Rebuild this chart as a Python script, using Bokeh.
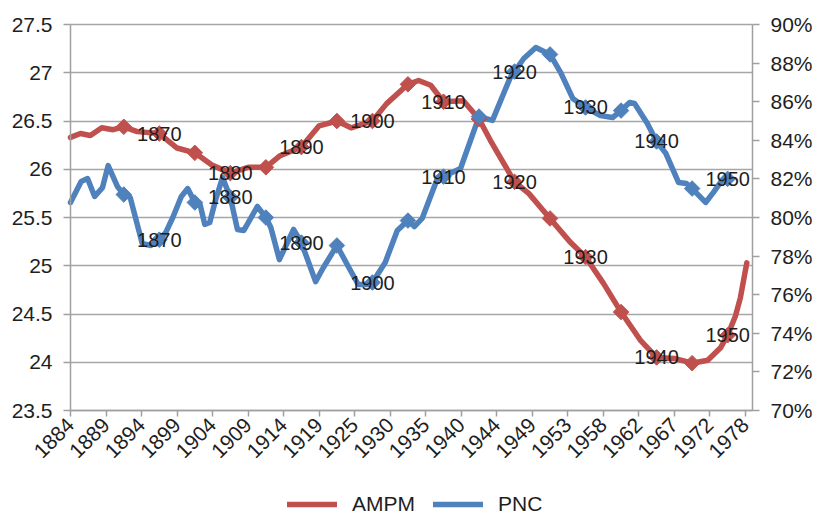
import math

from bokeh.core.properties import value
from bokeh.embed import file_html
from bokeh.models import (CustomJSTickFormatter, FixedTicker, Legend, LegendItem,
                          LinearAxis, PrintfTickFormatter, Range1d)
from bokeh.plotting import figure
from bokeh.resources import INLINE

# Period axis: tick positions (slot index) and their year labels
tick_pos = [0, 5, 10, 15, 20, 25, 30, 35, 40, 45, 50, 55, 60, 65, 70, 75, 80, 85, 90, 95]
tick_labels = ["1884", "1889", "1894", "1899", "1904", "1909", "1914", "1919", "1925", "1930",
               "1935", "1940", "1944", "1949", "1953", "1958", "1962", "1967", "1972", "1978"]

# AMPM (left axis, years)
ampm_t = [0, 1.4, 2.8, 4.4, 6.0, 7.5, 9.4, 12.5, 15.0, 17.5,
          20.0, 22.5, 25.0, 27.5, 29.5, 32.5, 35.0, 37.5, 39.5, 42.5,
          44.5, 47.5, 49.0, 50.7, 52.5, 55.3, 57.5, 59.1, 60.2, 62.5,
          64.5, 67.5, 70.4, 72.5, 75.0, 77.5, 80.2, 82.5, 85.0, 87.5,
          89.7, 91.5, 92.5, 93.6, 94.3, 95.2]
ampm = [26.33, 26.37, 26.35, 26.43, 26.41, 26.44, 26.39, 26.37, 26.22, 26.17,
        26.04, 25.96, 26.02, 26.02, 26.14, 26.23, 26.45, 26.50, 26.43, 26.50,
        26.68, 26.88, 26.92, 26.87, 26.70, 26.71, 26.52, 26.30, 26.16, 25.87,
        25.75, 25.49, 25.24, 25.09, 24.82, 24.52, 24.23, 24.05, 24.04, 23.99,
        24.02, 24.15, 24.28, 24.48, 24.67, 25.03]

# PNC (right axis, percent)
pnc_t = [0, 1.5, 2.4, 3.4, 4.5, 5.3, 6.6, 7.5, 8.4, 10.1,
         11.3, 12.5, 13.4, 14.4, 15.6, 16.5, 17.5, 18.2, 18.9, 19.6,
         20.4, 21.4, 22.5, 23.5, 24.4, 26.3, 27.5, 28.2, 29.4, 31.4,
         32.5, 34.5, 35.6, 37.5, 39.1, 40.5, 41.8, 42.5, 44.3, 46.0,
         47.5, 48.4, 49.5, 51.7, 52.5, 54.9, 57.5, 59.4, 61.9, 62.5,
         63.8, 65.5, 67.5, 69.0, 70.7, 72.5, 74.6, 76.3, 77.5, 78.7,
         79.4, 81.2, 82.5, 83.8, 85.6, 86.7, 87.5, 89.4, 90.5, 91.6,
         92.5]
pnc = [80.78, 81.87, 82.02, 81.09, 81.55, 82.69, 81.61, 81.19, 81.04, 78.65,
       78.55, 78.85, 79.22, 80.00, 81.09, 81.50, 80.78, 80.73, 79.64, 79.74,
       80.88, 82.07, 81.04, 79.38, 79.33, 80.57, 80.00, 79.48, 77.82, 79.38,
       78.70, 76.68, 77.41, 78.55, 77.46, 76.53, 76.53, 76.63, 77.67, 79.33,
       79.84, 79.53, 79.95, 82.07, 82.12, 82.54, 85.23, 85.03, 87.25, 87.56,
       88.24, 88.81, 88.45, 87.51, 86.17, 85.70, 85.28, 85.18, 85.54, 85.96,
       85.91, 84.87, 83.94, 83.32, 81.81, 81.76, 81.50, 80.78, 81.30, 81.87,
       82.00]

# Birth cohorts marked on both lines (every 5 years), decades get a label
cohort_t = [7.5, 12.5, 17.5, 22.5, 27.5, 32.5, 37.5, 42.5, 47.5, 52.5,
            57.5, 62.5, 67.5, 72.5, 77.5, 82.5, 87.5, 92.5]
cohort_year = [1865, 1870, 1875, 1880, 1885, 1890, 1895, 1900, 1905, 1910,
               1915, 1920, 1925, 1930, 1935, 1940, 1945, 1950]

RED = "#C0504D"
BLUE = "#4F81BD"
GRID = "#A6A6A6"
AXIS = "#A0A0A0"
TEXT = "#1E1E1E"
FONT = "Liberation Sans"

# Page geometry (pixels): the frame fills the page, the axes sit inside it
W, H = 814, 516
AX_LEFT, AX_RIGHT, AX_TOP, AX_BOTTOM = 70, 752, 24, 410
T_LO, T_HI = 0, 96
AMPM_LO, AMPM_HI = 23.5, 27.5
PNC_LO, PNC_HI = 70, 90

def stretch(lo, hi, px_lo, px_hi, before, after):
    per_px = (hi - lo) / (px_hi - px_lo)
    return lo - before * per_px, hi + after * per_px

x_lo, x_hi = stretch(T_LO, T_HI, AX_LEFT, AX_RIGHT, AX_LEFT, W - AX_RIGHT)
a_lo, a_hi = stretch(AMPM_LO, AMPM_HI, AX_TOP, AX_BOTTOM, H - AX_BOTTOM, AX_TOP)
c_lo, c_hi = stretch(PNC_LO, PNC_HI, AX_TOP, AX_BOTTOM, H - AX_BOTTOM, AX_TOP)

ampm_at = dict(zip(ampm_t, ampm))
pnc_at = dict(zip(pnc_t, pnc))
mark_ampm = [ampm_at[t] for t in cohort_t]
mark_pnc = [pnc_at[t] for t in cohort_t]
lab_idx = [i for i, c in enumerate(cohort_year) if c % 10 == 0]
lab_t = [cohort_t[i] for i in lab_idx]
lab_txt = [str(cohort_year[i]) for i in lab_idx]

p = figure(frame_width=W, frame_height=H,
           x_range=Range1d(x_lo, x_hi), y_range=Range1d(a_lo, a_hi),
           output_backend="svg", toolbar_location=None, min_border=0)
p.extra_y_ranges = {"pct": Range1d(c_lo, c_hi)}
p.outline_line_color = None
p.background_fill_color = "white"
p.border_fill_color = "white"

# grid: horizontal lines for the left axis only, between the two value axes
left_ticks = [23.5, 24, 24.5, 25, 25.5, 26, 26.5, 27, 27.5]
p.xgrid.visible = False
yg = p.ygrid[0]
if "cross_bounds" in yg.properties():
    yg.ticker = FixedTicker(ticks=left_ticks)
    yg.bounds = (AMPM_LO, AMPM_HI)
    yg.cross_bounds = (T_LO, T_HI)
    yg.grid_line_color = GRID
    yg.grid_line_width = 1.5
else:
    yg.visible = False
    p.segment(x0=[T_LO] * len(left_ticks), y0=left_ticks, x1=[T_HI] * len(left_ticks), y1=left_ticks,
              line_color=GRID, line_width=1.5, level="underlay")

# bottom axis along the AMPM floor
xa = p.xaxis[0]
xa.ticker = FixedTicker(ticks=tick_pos)
xa.major_label_overrides = {int(t): lab for t, lab in zip(tick_pos, tick_labels)}
xa.major_label_orientation = math.pi / 4
xa.fixed_location = AMPM_LO
xa.bounds = (T_LO, T_HI)
xa.minor_tick_line_color = None
xa.major_tick_in = 0
xa.major_tick_out = 6

# left axis at the first period slot
ya = p.yaxis[0]
ya.ticker = FixedTicker(ticks=left_ticks)
ya.fixed_location = T_LO
ya.bounds = (AMPM_LO, AMPM_HI)
ya.formatter = CustomJSTickFormatter(code="return tick.toString();")
ya.minor_tick_line_color = None
ya.major_tick_in = 0
ya.major_tick_out = 7

# right axis (percent) at the last period slot
ra = LinearAxis(y_range_name="pct", ticker=FixedTicker(ticks=[70, 72, 74, 76, 78, 80, 82, 84, 86, 88, 90]),
                formatter=PrintfTickFormatter(format="%d%%"), bounds=(PNC_LO, PNC_HI),
                fixed_location=T_HI)
ra.minor_tick_line_color = None
ra.major_tick_in = 0
ra.major_tick_out = 7
p.add_layout(ra, "right")

for ax in (xa, ya, ra):
    ax.axis_line_color = AXIS
    ax.axis_line_width = 1.5
    ax.major_tick_line_color = AXIS
    ax.major_tick_line_width = 1.5
    ax.major_label_text_font = FONT
    ax.major_label_text_font_size = "21px"
    ax.major_label_text_color = TEXT
xa.major_label_standoff = 5
ya.major_label_standoff = 11
ra.major_label_standoff = 11

# series
red_line = p.line(ampm_t, ampm, line_color=RED, line_width=5.5, line_join="round", line_cap="round")
blue_line = p.line(pnc_t, pnc, line_color=BLUE, line_width=5.5, line_join="round", line_cap="round",
                   y_range_name="pct")
p.scatter(cohort_t, mark_ampm, marker="square", angle=math.pi / 4, size=11,
          fill_color=RED, line_color=RED)
p.scatter(cohort_t, mark_pnc, marker="square", angle=math.pi / 4, size=11,
          fill_color=BLUE, line_color=BLUE, y_range_name="pct")

# cohort labels centred on the decade points
p.text(lab_t, [ampm_at[t] for t in lab_t], text=lab_txt, text_align="center", text_baseline="middle",
       text_font=value(FONT), text_font_size="20px", text_color=TEXT)
p.text(lab_t, [pnc_at[t] for t in lab_t], text=lab_txt, text_align="center", text_baseline="middle",
       text_font=value(FONT), text_font_size="20px", text_color=TEXT, y_range_name="pct")

# legend along the bottom edge of the page
legend = Legend(items=[LegendItem(label="AMPM", renderers=[red_line]),
                       LegendItem(label="PNC", renderers=[blue_line])],
                orientation="horizontal", location=(287, 0))
legend.glyph_width = 50
legend.glyph_height = 18
legend.label_height = 18
legend.label_text_font = FONT
legend.label_text_font_size = "21px"
legend.label_text_color = TEXT
legend.label_standoff = 15
legend.spacing = 18
legend.border_line_color = None
legend.background_fill_alpha = 0
legend.margin = 0
legend.padding = 0
p.add_layout(legend)

open("out.html", "w").write(file_html(p, INLINE))
